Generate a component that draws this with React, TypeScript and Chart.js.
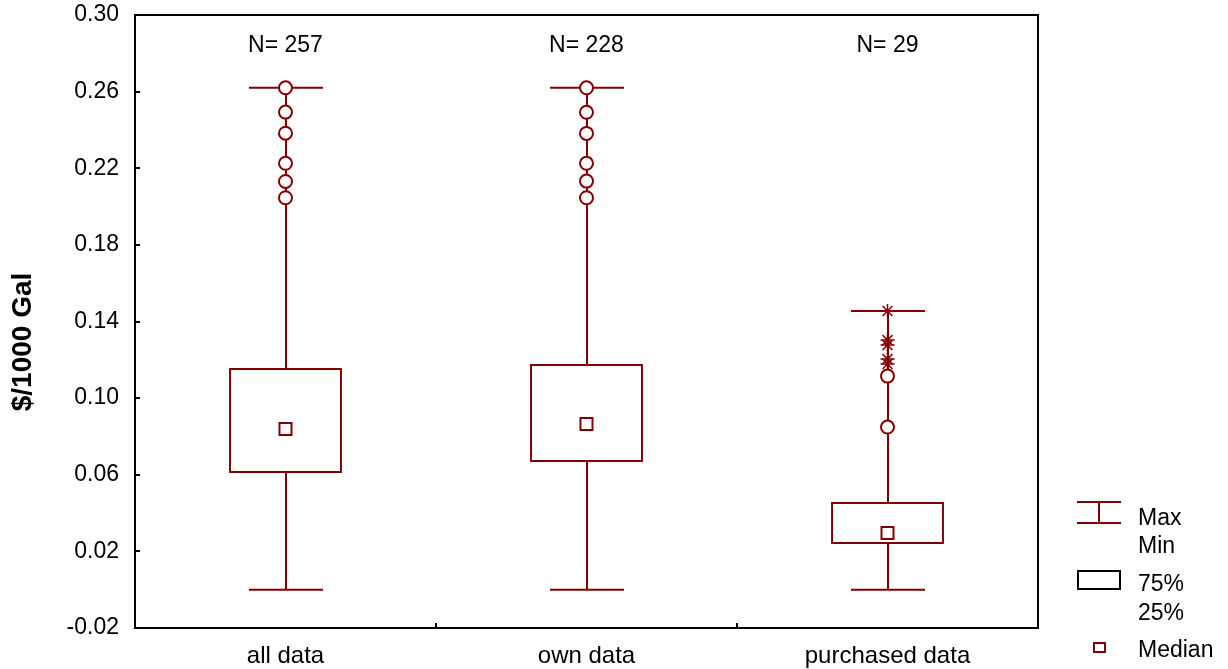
import React, { useEffect, useRef } from "react";
import { Chart, registerables } from "chart.js";

Chart.register(...registerables);

const categories = ["all data", "own data", "purchased data"];
const counts = [257, 228, 29];
const q1Values = [0.0609, 0.0667, 0.0238];
const q3Values = [0.1157, 0.1178, 0.0458];
const medianValues = [0.0839, 0.0865, 0.0296];
const minValues = [0.0, 0.0, 0.0];
const maxValues = [0.262, 0.262, 0.1455];
const outliersAll = [0.262, 0.2493, 0.2383, 0.2226, 0.2131, 0.2046];
const outliersOwn = [0.262, 0.2492, 0.2382, 0.2226, 0.2133, 0.2046];
const outliersPurchased = [0.1115, 0.0849];
const extremesPurchased = [0.1455, 0.1303, 0.1277, 0.1204, 0.1178];
const yMin = -0.02;
const yMax = 0.3;
const yStep = 0.04;

const DR = "#800000";
const FONT = "'Liberation Sans', Arial, sans-serif";

const boxPlugin = {
  id: "boxExtras",
  beforeDatasetsDraw(chart: any) {
    const { ctx, scales } = chart;
    const x = scales.x;
    const y = scales.y;
    ctx.save();
    ctx.strokeStyle = DR;
    ctx.lineWidth = 2;
    const capHalf = 37;
    categories.forEach((_, i) => {
      const cx = Math.round(x.getPixelForValue(i));
      const yq3 = y.getPixelForValue(q3Values[i]);
      const yq1 = y.getPixelForValue(q1Values[i]);
      const yMaxP = y.getPixelForValue(maxValues[i]);
      const yMinP = y.getPixelForValue(minValues[i]);
      ctx.beginPath();
      ctx.moveTo(cx, yq3);
      ctx.lineTo(cx, yMaxP);
      ctx.moveTo(cx, yq1);
      ctx.lineTo(cx, yMinP);
      ctx.moveTo(cx - capHalf, yMaxP);
      ctx.lineTo(cx + capHalf, yMaxP);
      ctx.moveTo(cx - capHalf, yMinP);
      ctx.lineTo(cx + capHalf, yMinP);
      ctx.stroke();
    });
    ctx.restore();
  },
  afterDraw(chart: any) {
    const { ctx, scales, chartArea } = chart;
    const x = scales.x;
    const y = scales.y;
    ctx.save();
    // frame
    ctx.strokeStyle = "#000";
    ctx.lineWidth = 2;
    ctx.strokeRect(chartArea.left, chartArea.top, chartArea.right - chartArea.left, chartArea.bottom - chartArea.top);
    // inward ticks on y axis
    ctx.beginPath();
    y.ticks.forEach((t: any) => {
      const py = Math.round(y.getPixelForValue(t.value));
      if (py <= chartArea.top + 2 || py >= chartArea.bottom - 2) return;
      ctx.moveTo(chartArea.left, py);
      ctx.lineTo(chartArea.left + 5, py);
    });
    // inward ticks on x axis at category boundaries
    for (let i = 1; i < categories.length; i++) {
      const px = Math.round((x.getPixelForValue(i - 1) + x.getPixelForValue(i)) / 2);
      ctx.moveTo(px, chartArea.bottom);
      ctx.lineTo(px, chartArea.bottom - 5);
    }
    ctx.stroke();

    // N labels
    ctx.fillStyle = "#000";
    ctx.font = `23px ${FONT}`;
    ctx.textAlign = "center";
    ctx.textBaseline = "alphabetic";
    categories.forEach((_, i) => {
      ctx.fillText(`N= ${counts[i]}`, x.getPixelForValue(i), 52);
    });

    // y title
    ctx.save();
    ctx.translate(23, 342);
    ctx.rotate(-Math.PI / 2);
    ctx.font = `bold 28px ${FONT}`;
    ctx.textAlign = "center";
    ctx.textBaseline = "middle";
    ctx.fillText("$/1000 Gal", 0, 0);
    ctx.restore();

    // legend
    ctx.lineWidth = 2;
    ctx.strokeStyle = DR;
    ctx.beginPath();
    ctx.moveTo(1077, 502);
    ctx.lineTo(1121, 502);
    ctx.moveTo(1077, 523);
    ctx.lineTo(1121, 523);
    ctx.moveTo(1099, 502);
    ctx.lineTo(1099, 523);
    ctx.stroke();
    ctx.strokeStyle = "#000";
    ctx.strokeRect(1078, 571, 42, 18);
    ctx.strokeStyle = DR;
    ctx.strokeRect(1094, 643, 11, 9);

    ctx.fillStyle = "#000";
    ctx.font = `23px ${FONT}`;
    ctx.textAlign = "left";
    ctx.textBaseline = "alphabetic";
    ctx.fillText("Max", 1138, 525);
    ctx.fillText("Min", 1138, 553);
    ctx.fillText("75%", 1138, 591);
    ctx.fillText("25%", 1138, 620);
    ctx.fillText("Median", 1138, 657);
    ctx.restore();
  },
};

export default function App() {
  const ref = useRef<HTMLCanvasElement | null>(null);
  useEffect(() => {
    if (!ref.current) return;
    const pts = (cat: string, arr: number[]) => arr.map((v) => ({ x: cat, y: v }));
    const chart = new Chart(ref.current, {
      type: "bar",
      data: {
        labels: categories,
        datasets: [
          {
            type: "line",
            label: "Median",
            data: medianValues,
            showLine: false,
            pointStyle: "rect",
            pointRadius: 8.5,
            pointBorderWidth: 2,
            pointBorderColor: DR,
            pointBackgroundColor: "#fff",
            order: 1,
          } as any,
          {
            type: "line",
            label: "Outliers",
            data: [
              ...pts(categories[0], outliersAll),
              ...pts(categories[1], outliersOwn),
              ...pts(categories[2], outliersPurchased),
            ],
            showLine: false,
            pointStyle: "circle",
            pointRadius: 6.5,
            pointBorderWidth: 2,
            pointBorderColor: DR,
            pointBackgroundColor: "#fff",
            order: 1,
          } as any,
          {
            type: "line",
            label: "Extremes",
            data: pts(categories[2], extremesPurchased),
            showLine: false,
            pointStyle: "star",
            pointRadius: 7,
            pointBorderWidth: 1.5,
            pointBorderColor: DR,
            pointBackgroundColor: DR,
            order: 1,
          } as any,
          {
            type: "bar",
            label: "Box",
            data: categories.map((_, i) => [q1Values[i], q3Values[i]]),
            backgroundColor: "#fff",
            borderColor: DR,
            borderWidth: 2,
            borderSkipped: false,
            barPercentage: 0.375,
            categoryPercentage: 1,
            order: 3,
          } as any,
        ],
      },
      options: {
        animation: false,
        responsive: false,
        devicePixelRatio: 1,
        events: [],
        layout: { padding: { left: 0, top: 15, right: 190, bottom: 0 } },
        plugins: { legend: { display: false }, tooltip: { enabled: false }, title: { display: false } },
        scales: {
          x: {
            type: "category",
            offset: true,
            grid: { display: false, drawTicks: false, offset: true },
            border: { display: false },
            ticks: { color: "#000", font: { family: FONT, size: 24 }, padding: 14, maxRotation: 0 },
            afterFit: (s: any) => {
              s.height = 41;
              s.paddingLeft = 0;
              s.paddingRight = 0;
            },
          },
          y: {
            type: "linear",
            min: yMin,
            max: yMax,
            grid: { display: false, drawTicks: false },
            border: { display: false },
            ticks: {
              stepSize: yStep,
              color: "#000",
              font: { family: FONT, size: 23 },
              padding: 16,
              callback: (v: any) => Number(v).toFixed(2),
            },
            afterFit: (s: any) => {
              s.width = 135;
              s.paddingTop = 0;
              s.paddingBottom = 0;
            },
          },
        },
      },
      plugins: [boxPlugin],
    });
    return () => chart.destroy();
  }, []);
  return (
    <div style={{ position: "fixed", left: 0, top: 0, width: 1228, height: 669, background: "#fff" }}>
      <canvas ref={ref} width={1228} height={669} />
    </div>
  );
}
